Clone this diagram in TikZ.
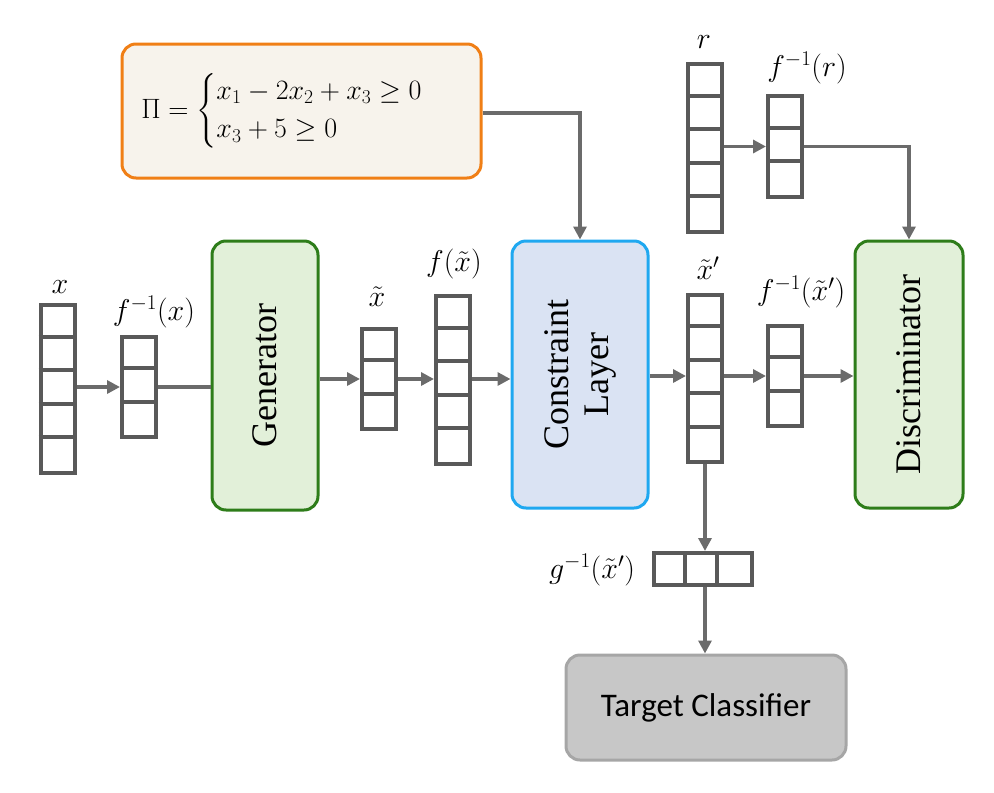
\RequirePackage{fix-cm}
\documentclass[tikz,border=0pt]{standalone}
\usepackage{amsmath}
\usepackage{fontspec}
\setmainfont{Liberation Serif}
\newfontfamily\calfont{Carlito}
\usetikzlibrary{arrows.meta,calc}
\definecolor{cellc}{HTML}{595959}
\definecolor{arrc}{HTML}{6B6B6B}
\definecolor{grn}{HTML}{2E7D1A}
\definecolor{grnf}{HTML}{E2F0D9}
\definecolor{blu}{HTML}{1FA8F0}
\definecolor{bluf}{HTML}{DAE3F3}
\definecolor{org}{HTML}{F07F16}
\definecolor{orgf}{HTML}{F7F3EC}
\tikzset{
  cell/.style={draw=cellc,line width=4pt},
  arr/.style={draw=arrc,line width=3.5pt,-{Triangle[length=13pt,width=13pt]}},
  ln/.style={draw=arrc,line width=3.5pt},
  blk/.style={rounded corners=14pt,line width=3pt,inner sep=0pt},
  lab/.style={font=\fontsize{30}{34}\selectfont,inner sep=1pt},
  big/.style={font=\fontsize{36}{40}\selectfont},
}
\newcommand\myvvec[4]{% name, cx, cy, n
  \node[cell,minimum width=34pt,minimum height=#4*33.5pt,inner sep=0pt] (#1) at (#2,#3) {};
  \foreach \i in {1,...,#4}{\ifnum\i<#4 \draw[cell] ($(#1.north west)+(0,\i*33.5)$) -- ++(34,0);\fi}
}
\begin{document}
\begin{tikzpicture}[x=1pt,y=-1pt]
\useasboundingbox (0,0) rectangle (994,793);
% blocks
\node[blk,draw=org,fill=orgf,minimum width=359pt,minimum height=134pt] (pi) at (301.5,111) {};
\node[font=\fontsize{28}{32}\selectfont] at (296,111) {\hbox{$\Pi=\begin{cases}x_1-2x_2+x_3\ge 0\\ x_3+5\ge 0\end{cases}$}};
\node[blk,draw=grn,fill=grnf,minimum width=106pt,minimum height=269pt] (gen) at (265,375.5) {};
\node[rotate=90,big] at (gen) {Generator};
\node[blk,draw=blu,fill=bluf,minimum width=136pt,minimum height=267pt] (con) at (580,374.5) {};
\node[rotate=90,big,align=center] at (con) {Constraint\\Layer};
\node[blk,draw=grn,fill=grnf,minimum width=108pt,minimum height=267pt] (dis) at (909,374.5) {};
\node[rotate=90,big] at (dis) {Discriminator};
\node[blk,draw=black!35,fill=black!22,minimum width=280pt,minimum height=105pt] (tc) at (706,707.5) {};
\node[font=\calfont\fontsize{33}{38}\selectfont] at (tc) {Target Classifier};
% vectors
\myvvec{xv}{57.5}{389}{5}
\myvvec{fx}{139}{387}{3}
\myvvec{xt}{379}{379}{3}
\myvvec{fxt}{453}{380}{5}
\myvvec{xp}{705}{378.5}{5}
\myvvec{fxp}{785}{376}{3}
\myvvec{rv}{705}{148}{5}
\myvvec{fr}{785}{146.5}{3}
\node[cell,minimum width=98pt,minimum height=32pt,inner sep=0pt] (gv) at (703,569) {};
\draw[cell] ($(gv.north west)+(32.7,0)$) -- ++(0,32);
\draw[cell] ($(gv.north west)+(65.3,0)$) -- ++(0,32);
% labels
\node[lab] at (60,287) {$x$};
\node[lab] at (154,312) {$f^{-1}(x)$};
\node[lab] at (377,297) {$\tilde{x}$};
\node[lab] at (454,264) {$f(\tilde{x})$};
\node[lab] at (708,268) {$\tilde{x}'$};
\node[lab] at (801,292) {$f^{-1}(\tilde{x}')$};
\node[lab] at (704,42) {$r$};
\node[lab] at (807,68) {$f^{-1}(r)$};
\node[lab] at (592,570) {$g^{-1}(\tilde{x}')$};
% connectors
\draw[arr] (xv.east |- fx) -- (fx);
\draw[ln] (fx) -- (gen.west |- fx);
\draw[arr] (gen.east |- xt) -- (xt);
\draw[arr] (xt) -- (fxt.west |- xt);
\draw[arr] (fxt.east |- xt) -- (con.west |- xt);
\draw[arr] (con.east |- fxp) -- (xp.west |- fxp);
\draw[arr] (xp.east |- fxp) -- (fxp);
\draw[arr] (fxp) -- (dis.west |- fxp);
\draw[arr] (rv.east |- fr) -- (fr);
\draw[arr] (fr.east) -| (dis.north);
\draw[arr] (pi.east |- 0,113) -| (con.north);
\draw[arr] (xp.south) -- (xp.south |- gv.north);
\draw[arr] (xp.south |- gv.south) -- (xp.south |- tc.north);
\end{tikzpicture}
\end{document}
